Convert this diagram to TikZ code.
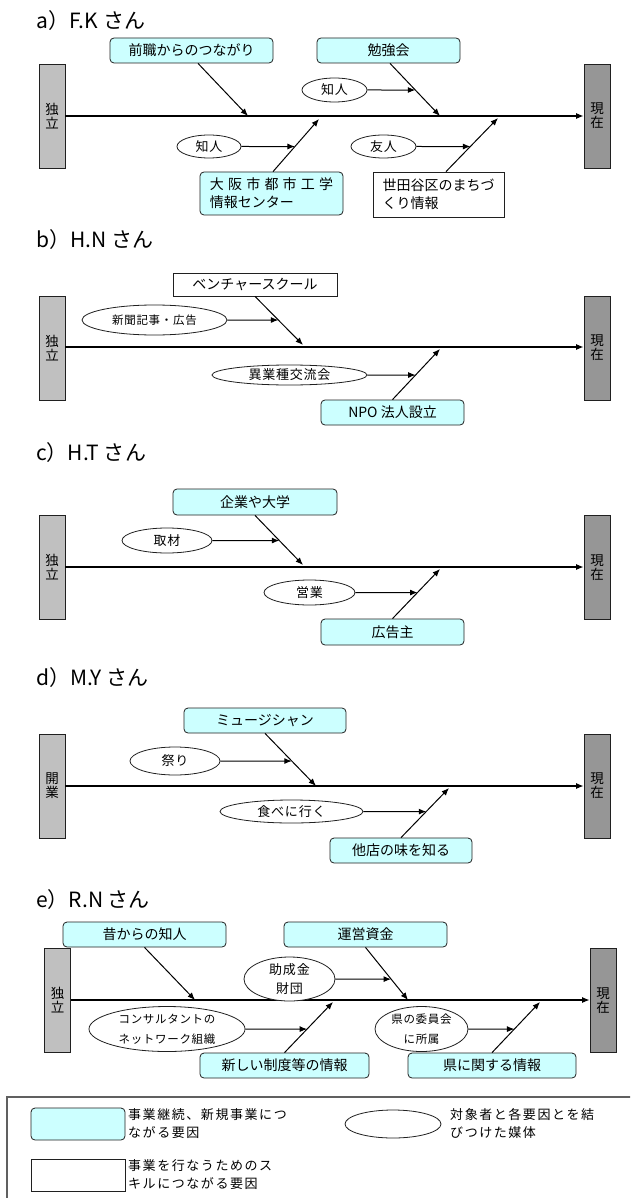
\documentclass[tikz,border=0pt]{standalone}
\usepackage{fontspec}
\setmainfont{Noto Sans CJK JP}
\newfontfamily\legendfont{Noto Sans CJK JP}[LetterSpace=12]
\newfontfamily\ovalfont{Noto Sans CJK JP}[LetterSpace=6]
\usetikzlibrary{arrows.meta,shapes.geometric,calc}
\definecolor{boxcyan}{HTML}{CCFFFF}
\definecolor{barlight}{HTML}{C0C0C0}
\definecolor{bardark}{HTML}{969696}
\definecolor{edge}{HTML}{202020}
\definecolor{framegray}{HTML}{606060}
\newcommand\jsp{\kern4.2pt}
\tikzset{
  sz/.style 2 args={minimum width=#1, minimum height=#2},
  cause/.style={draw=edge, line width=0.8pt, fill=boxcyan, rounded corners=4pt,
    inner sep=0pt, font=\fontsize{14}{18}\selectfont, align=center},
  skill/.style={draw=edge, line width=0.8pt, fill=white, inner sep=0pt,
    font=\fontsize{14}{18}\selectfont, align=center},
  medium/.style={draw=edge, line width=0.8pt, fill=white, ellipse, inner sep=0pt,
    font=\ovalfont\fontsize{13}{19}\selectfont, align=center},
  smalltext/.style={font=\ovalfont\fontsize{11.5}{20}\selectfont},
  startbar/.style={draw=edge, line width=0.8pt, fill=barlight, minimum width=26pt,
    minimum height=104pt, inner sep=0pt, font=\fontsize{13.5}{14}\selectfont, align=center},
  endbar/.style={startbar, fill=bardark},
  heading/.style={anchor=west, inner sep=0pt, font=\fontsize{21}{21}\selectfont},
  legendtext/.style={anchor=west, align=left, inner sep=0pt,
    font=\legendfont\fontsize{13}{18}\selectfont},
  arr/.style={-{Latex[length=7.5pt,width=6pt]}, line width=1pt},
  spine/.style={arr, line width=1.1pt},
}
\begin{document}
\begin{tikzpicture}[x=1pt,y=-1pt]
\useasboundingbox (0,0) rectangle (630,1198);
\clip (0,0) rectangle (630,1198);

% ---------------- a) F.K
\node[heading] (ta) at (36,21) {a）F.K さん};
\node[startbar] (sa) at (52,116) {独\\立};
\node[endbar] (ea) at (597,116) {現\\在};
\draw[spine] (sa.east) -- (ea.west);
\node[cause, sz={163}{25}] (a1) at (191.5,50.5) {前職からのつながり};
\node[cause, sz={143}{25}] (a2) at (388.5,50.5) {勉強会};
\node[cause, sz={143}{43}, align=left] (a3) at (271.5,193.5)
  {大\jsp 阪\jsp 市\jsp 都\jsp 市\jsp 工\jsp 学\\情報センター};
\node[skill, sz={131}{45}, align=left] (a4) at (438.5,194.5) {世田谷区のまちづ\\くり情報};
\node[medium, sz={65}{24}] (am1) at (334.5,90) {知人};
\node[medium, sz={64}{23}] (am2) at (209,146.5) {知人};
\node[medium, sz={65}{23}] (am3) at (383.5,146.5) {友人};
\coordinate (as1) at ([xshift=6.5pt]a1.south);
\coordinate (as2) at ([xshift=1.5pt]a2.south);
\coordinate (as3) at ([xshift=1.5pt]a3.north);
\coordinate (as4) at ([xshift=7.5pt]a4.north);
\coordinate (ax1) at (248,116);
\coordinate (ax2) at (440,116);
\coordinate (ax3) at (319,119);
\coordinate (ax4) at (498,118);
\draw[arr] (as1) -- (ax1);
\draw[arr] (as2) -- (ax2);
\draw[arr] (as3) -- (ax3);
\draw[arr] (as4) -- (ax4);
\draw[arr] (am1.east) -- (intersection cs: first line={(am1.west)--(am1.east)}, second line={(as2)--(ax2)});
\draw[arr] (am2.east) -- (intersection cs: first line={(am2.west)--(am2.east)}, second line={(as3)--(ax3)});
\draw[arr] (am3.east) -- (intersection cs: first line={(am3.west)--(am3.east)}, second line={(as4)--(ax4)});

% ---------------- b) H.N
\node[heading] (tb) at (36,240) {b）H.N さん};
\node[startbar] (sb) at (52,348) {独\\立};
\node[endbar] (eb) at (597,348) {現\\在};
\draw[spine] (sb.east |- 0,347) -- (eb.west |- 0,347);
\node[skill, sz={164}{23}] (b1) at (255,284.5) {ベンチャースクール};
\node[cause, sz={143}{25}] (b2) at (392.5,412.5) {NPO 法人設立};
\node[medium, smalltext, sz={145}{30}] (bm1) at (154.5,320) {新聞記事・広告};
\node[medium, sz={155}{20}] (bm2) at (289.5,375) {異業種交流会};
\coordinate (bs1) at (b1.south);
\coordinate (bs2) at (b2.north);
\coordinate (bx1) at (303,345);
\coordinate (bx2) at (440,349);
\draw[arr] (bs1) -- (bx1);
\draw[arr] (bs2) -- (bx2);
\draw[arr] (bm1.east) -- (intersection cs: first line={(bm1.west)--(bm1.east)}, second line={(bs1)--(bx1)});
\draw[arr] (bm2.east) -- (intersection cs: first line={(bm2.west)--(bm2.east)}, second line={(bs2)--(bx2)});

% ---------------- c) H.T
\node[heading] (tc) at (36,453) {c）H.T さん};
\node[startbar] (sc) at (52,567.5) {独\\立};
\node[endbar] (ec) at (597,567.5) {現\\在};
\draw[spine] (sc.east |- 0,567) -- (ec.west |- 0,567);
\node[cause, sz={164}{26}] (c1) at (255,502) {企業や大学};
\node[cause, sz={143}{26}] (c2) at (392.5,632) {広告主};
\node[medium, sz={90}{25}] (cm1) at (167,540.5) {取材};
\node[medium, sz={91}{25}] (cm2) at (309.5,592.5) {営業};
\coordinate (cs1) at (c1.south);
\coordinate (cs2) at (c2.north);
\coordinate (cx1) at (303,565);
\coordinate (cx2) at (440,569);
\draw[arr] (cs1) -- (cx1);
\draw[arr] (cs2) -- (cx2);
\draw[arr] (cm1.east) -- (intersection cs: first line={(cm1.west)--(cm1.east)}, second line={(cs1)--(cx1)});
\draw[arr] (cm2.east) -- (intersection cs: first line={(cm2.west)--(cm2.east)}, second line={(cs2)--(cx2)});

% ---------------- d) M.Y
\node[heading] (td) at (36,678) {d）M.Y さん};
\node[startbar] (sd) at (52,786) {開\\業};
\node[endbar] (ed) at (597,786) {現\\在};
\draw[spine] (sd.east) -- (ed.west);
\node[cause, sz={162}{25}] (d1) at (265,720.5) {ミュージシャン};
\node[cause, sz={142}{25}] (d2) at (401,850.5) {他店の味を知る};
\node[medium, sz={90}{28}] (dm1) at (175,761) {祭り};
\node[medium, sz={143}{23}] (dm2) at (291.5,811.5) {食べに行く};
\coordinate (ds1) at (d1.south);
\coordinate (ds2) at (d2.north);
\coordinate (dx1) at (316,786);
\coordinate (dx2) at (449,788);
\draw[arr] (ds1) -- (dx1);
\draw[arr] (ds2) -- (dx2);
\draw[arr] (dm1.east) -- (intersection cs: first line={(dm1.west)--(dm1.east)}, second line={(ds1)--(dx1)});
\draw[arr] (dm2.east) -- (intersection cs: first line={(dm2.west)--(dm2.east)}, second line={(ds2)--(dx2)});

% ---------------- e) R.N
\node[heading] (te) at (36,900) {e）R.N さん};
\node[startbar] (se) at (57.5,1000.5) {独\\立};
\node[endbar] (ee) at (603,1000.5) {現\\在};
\draw[spine] (se.east |- 0,1000) -- (ee.west |- 0,1000);
\node[cause, sz={163}{25}] (e1) at (144.5,934.5) {昔からの知人};
\node[cause, sz={163}{25}] (e2) at (365.5,934.5) {運営資金};
\node[cause, sz={169}{25}] (e3) at (284.5,1065.5) {新しい制度等の情報};
\node[cause, sz={168}{25}] (e4) at (492,1065.5) {県に関する情報};
\node[medium, sz={91}{44}] (em1) at (289.5,979) {助成金\\財団};
\node[medium, smalltext, sz={156}{45}] (em2) at (167,1029) {コンサルタントの\\ネットワーク組織};
\node[medium, smalltext, sz={93}{45}] (em3) at (421.5,1029) {県の委員会\\に所属};
\coordinate (es1) at (e1.south);
\coordinate (es2) at (e2.south);
\coordinate (es3) at (e3.north);
\coordinate (es4) at (e4.north);
\coordinate (ex1) at (195,1000);
\coordinate (ex2) at (408,1000);
\coordinate (ex3) at (333,1002);
\coordinate (ex4) at (540,1002);
\draw[arr] (es1) -- (ex1);
\draw[arr] (es2) -- (ex2);
\draw[arr] (es3) -- (ex3);
\draw[arr] (es4) -- (ex4);
\draw[arr] (em1.east) -- (intersection cs: first line={(em1.west)--(em1.east)}, second line={(es2)--(ex2)});
\draw[arr] (em2.east) -- (intersection cs: first line={(em2.west)--(em2.east)}, second line={(es3)--(ex3)});
\draw[arr] (em3.east) -- (intersection cs: first line={(em3.west)--(em3.east)}, second line={(es4)--(ex4)});

% ---------------- legend
\draw[framegray, line width=1.2pt] (7,1097) rectangle (640,1210);
\node[cause, sz={94}{32}] (lc) at (78,1124) {};
\node[skill, sz={94}{32}] (ls) at (78,1175) {};
\node[medium, sz={96}{28}] (lm) at (393,1124) {};
\node[legendtext] (lct) at (128,1124) {事業継続、新規事業につ\\ながる要因};
\node[legendtext] (lst) at (128,1175) {事業を行なうためのス\\キルにつながる要因};
\node[legendtext] (lmt) at (450,1123) {対象者と各要因とを結\\びつけた媒体};
\end{tikzpicture}
\end{document}
